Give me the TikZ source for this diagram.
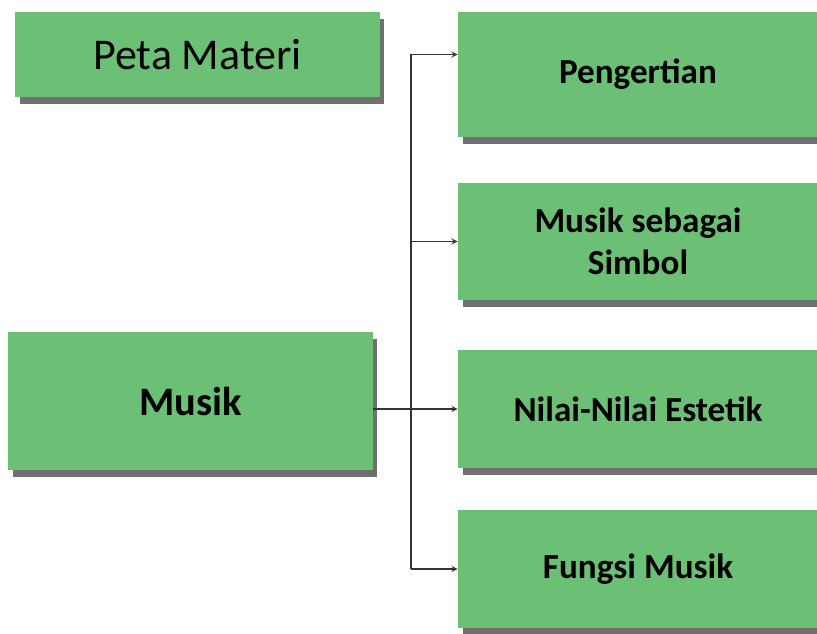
\documentclass[tikz,border=0pt]{standalone}
\usepackage{fontspec}
\setmainfont{Carlito}
\usetikzlibrary{shadows}
\definecolor{boxgreen}{RGB}{108,192,117}
\tikzset{
	box/.style={draw=none, fill=boxgreen, minimum width=7.3cm, align=center,
		drop shadow={shadow xshift=0.09cm, shadow yshift=-0.14cm, fill=black!75, opacity=0.75}},
	topic/.style={box, minimum width=7.2cm, font=\fontsize{20}{24}\selectfont\bfseries},
}
\begin{document}
\begin{tikzpicture}[>=stealth, x=0.02cm, y=-0.02cm]
		\useasboundingbox (0,0) rectangle (817,634);
		\node[box, minimum height=1.7cm, font=\fontsize{25}{30}\selectfont] (peta) at (197.5,54.5) {Peta Materi};
		\node[box, minimum height=2.76cm, font=\fontsize{23}{28}\selectfont\bfseries] (musik) at (190.5,401) {Musik};
		\node[topic, minimum height=2.5cm] (pengertian) at (638,74.5) {Pengertian};
		\node[topic, minimum height=2.34cm] (simbol) at (638,241.5) {Musik sebagai\\Simbol};
		\node[topic, minimum height=2.36cm] (nilai) at (638,409) {Nilai-Nilai Estetik};
		\node[topic, minimum height=2.36cm] (fungsi) at (638,569) {Fungsi Musik};
		\coordinate (split) at (411,410);
		\draw[black!80, line width=0.6pt] (split |- peta.east) -- (split |- fungsi.west);
		\draw[->, black!80, line width=0.6pt] (musik.east |- nilai.west) -- (nilai.west);
		\draw[->, black!80, line width=0.6pt] (split |- peta.east) -- (pengertian.west |- peta.east);
		\draw[->, black!80, line width=0.6pt] (split |- simbol.west) -- (simbol.west);
		\draw[->, black!80, line width=0.6pt] (split |- fungsi.west) -- (fungsi.west);
		\end{tikzpicture}
\end{document}
